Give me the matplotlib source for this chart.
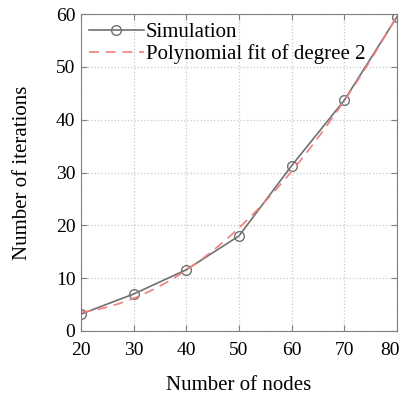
import numpy as np
import matplotlib.pyplot as plt
import matplotlib.transforms as mtransforms

plt.rcParams['font.family'] = 'Liberation Serif'

# iterations needed for each network size
nodes = [20, 30, 40, 50, 60, 70, 80]
iterations = [3.2, 7.0, 11.6, 18.0, 31.3, 43.7, 59.5]

coef = np.polyfit(nodes, iterations, 2)
xfit = np.linspace(nodes[0], nodes[-1], 200)
yfit = np.polyval(coef, xfit)

fig = plt.figure(figsize=(4.03, 3.94), dpi=100)
ax = fig.add_axes([0.201, 0.160, 0.784, 0.804])

ax.plot(nodes, iterations, color='#707070', lw=1.2, marker='o', ms=7,
        mfc='none', mec='#707070', mew=1.0, label='Simulation')
ax.plot(xfit, yfit, color='#f08080', lw=1.2, ls=(0, (6, 4)),
        label='Polynomial fit of degree 2')

ax.set_xlim(20, 80)
ax.set_ylim(0, 60)
ax.set_xticks(np.arange(20, 81, 10))
ax.set_yticks(np.arange(0, 61, 10))
ax.grid(True, ls=':', color='#c8c8c8', lw=0.9)
ax.tick_params(direction='in', top=True, right=True, labelsize=14,
               color='#808080', length=4)
ax.tick_params(axis='x', pad=8)
ax.tick_params(axis='y', pad=4)
for s in ax.spines.values():
    s.set_color('#808080')

# keep the last x label inside the figure
last = ax.get_xticklabels()[-1]
last.set_transform(last.get_transform() +
                   mtransforms.ScaledTranslation(-5 / 72, 0, fig.dpi_scale_trans))

ax.set_xlabel('Number of nodes', fontsize=15, labelpad=12)
ax.set_ylabel('Number of iterations', fontsize=15, labelpad=17)
ax.legend(loc='upper left', frameon=False, fontsize=15, handlelength=2.6,
          borderaxespad=0.2, handletextpad=0.1, labelspacing=0.1,
          borderpad=0.2)

plt.savefig('out.png', dpi=100)
